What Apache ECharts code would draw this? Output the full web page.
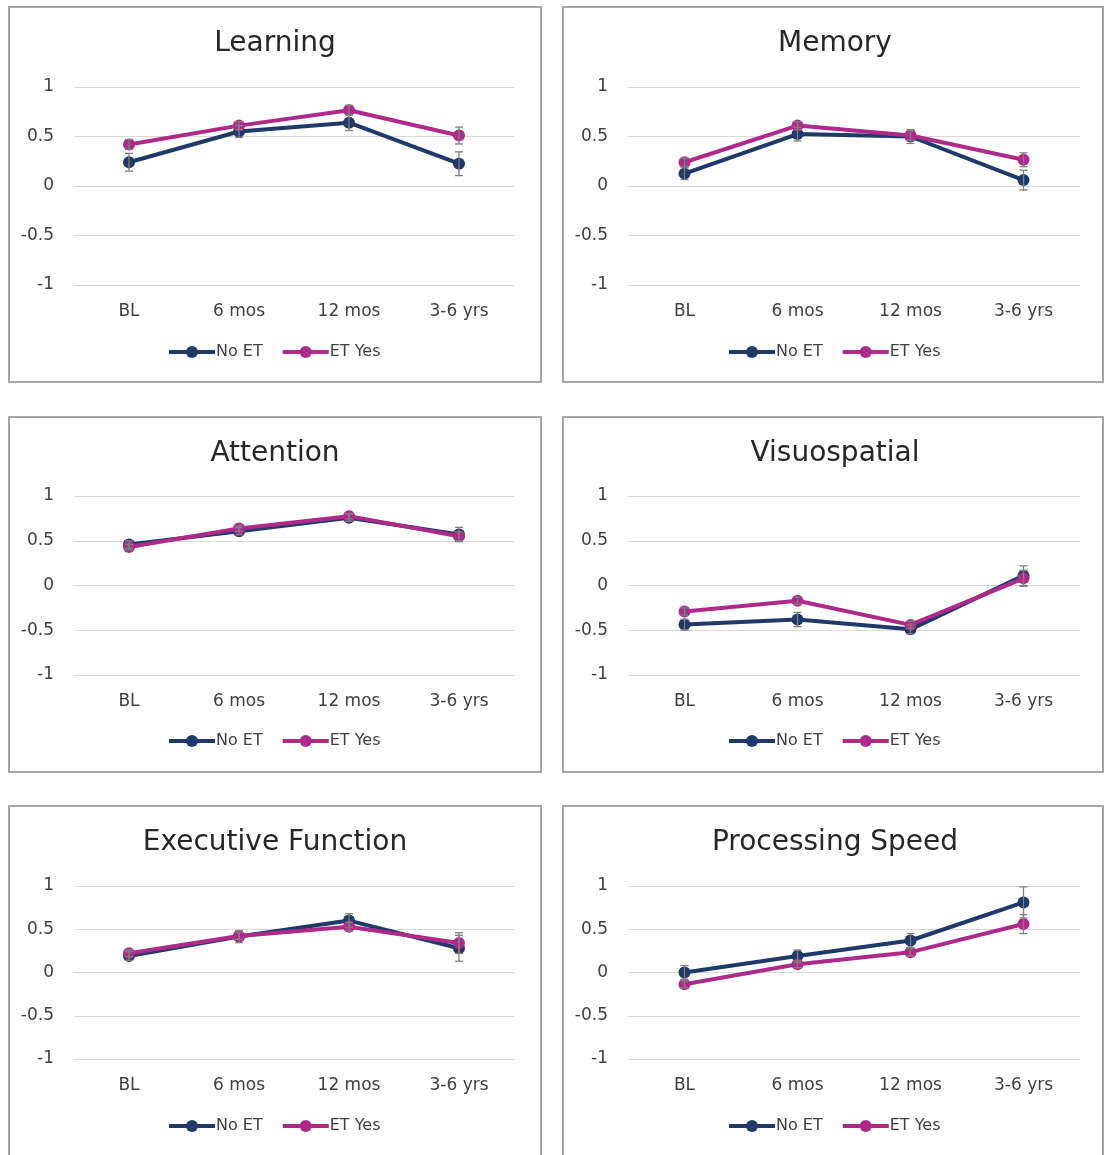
<!DOCTYPE html>
<html>
<head>
<meta charset="utf-8">
<script src="https://cdn.jsdelivr.net/npm/echarts@6/dist/echarts.min.js"></script>
<style>
html,body{margin:0;padding:0;background:#fff;}
#c{width:1105px;height:1155px;}
</style>
</head>
<body>
<div id="c"></div>
<script>
const categories = ['BL', '6 mos', '12 mos', '3-6 yrs'];
const seriesNames = ['No ET', 'ET Yes'];
const yTicks = [-1, -0.5, 0, 0.5, 1];

const panelTitles = ['Learning', 'Memory', 'Attention', 'Visuospatial', 'Executive Function', 'Processing Speed'];

// means
const learningNoET = [0.24, 0.55, 0.64, 0.225];
const learningETYes = [0.42, 0.61, 0.765, 0.51];
const memoryNoET = [0.125, 0.525, 0.50, 0.06];
const memoryETYes = [0.24, 0.61, 0.51, 0.265];
const attentionNoET = [0.457, 0.607, 0.757, 0.57];
const attentionETYes = [0.43, 0.637, 0.775, 0.55];
const visuoNoET = [-0.437, -0.38, -0.49, 0.11];
const visuoETYes = [-0.29, -0.17, -0.44, 0.08];
const execNoET = [0.19, 0.415, 0.60, 0.28];
const execETYes = [0.223, 0.423, 0.53, 0.34];
const speedNoET = [0.0, 0.19, 0.37, 0.81];
const speedETYes = [-0.135, 0.096, 0.235, 0.56];

// error bar half-widths
const learningNoETErr = [0.09, 0.06, 0.08, 0.12];
const learningETYesErr = [0.05, 0.04, 0.05, 0.085];
const memoryNoETErr = [0.06, 0.07, 0.07, 0.10];
const memoryETYesErr = [0.04, 0.04, 0.05, 0.07];
const attentionNoETErr = [0.04, 0.04, 0.04, 0.08];
const attentionETYesErr = [0.03, 0.03, 0.03, 0.05];
const visuoNoETErr = [0.06, 0.08, 0.05, 0.11];
const visuoETYesErr = [0.04, 0.04, 0.04, 0.09];
const execNoETErr = [0.05, 0.07, 0.08, 0.15];
const execETYesErr = [0.04, 0.04, 0.05, 0.12];
const speedNoETErr = [0.08, 0.07, 0.08, 0.18];
const speedETYesErr = [0.04, 0.04, 0.04, 0.11];

const panelData = [
  [learningNoET, learningETYes, learningNoETErr, learningETYesErr],
  [memoryNoET, memoryETYes, memoryNoETErr, memoryETYesErr],
  [attentionNoET, attentionETYes, attentionNoETErr, attentionETYesErr],
  [visuoNoET, visuoETYes, visuoNoETErr, visuoETYesErr],
  [execNoET, execETYes, execNoETErr, execETYesErr],
  [speedNoET, speedETYes, speedNoETErr, speedETYesErr]
];

const NAVY = '#1f3968';
const MAGENTA = '#ae2a8a';
const ERR = '#7f7f7f';
const FONT = 'DejaVu Sans';

// layout
const cols = [
  {left: 74, width: 440, center: 275, boxL: 9, boxR: 541, yLab: 20},
  {left: 628, width: 452, center: 835, boxL: 563, boxR: 1103, yLab: 20}
];
const rows = [
  {top: 87, height: 198, title: 43, legend: 352, boxT: 7, boxB: 382},
  {top: 496, height: 179, title: 453, legend: 741, boxT: 417, boxB: 772},
  {top: 886, height: 173, title: 842, legend: 1126, boxT: 806, boxB: 1170}
];

const grids = [], xAxes = [], yAxes = [], series = [], titles = [], legends = [], graphics = [];

function errRender(color) {
  return function (params, api) {
    const x = api.value(0), lo = api.value(1), hi = api.value(2);
    const p1 = api.coord([x, lo]);
    const p2 = api.coord([x, hi]);
    const cw = 4;
    const st = {stroke: color, lineWidth: 1.3};
    return {
      type: 'group',
      children: [
        {type: 'line', shape: {x1: p1[0], y1: p1[1], x2: p2[0], y2: p2[1]}, style: st},
        {type: 'line', shape: {x1: p1[0] - cw, y1: p1[1], x2: p1[0] + cw, y2: p1[1]}, style: st},
        {type: 'line', shape: {x1: p2[0] - cw, y1: p2[1], x2: p2[0] + cw, y2: p2[1]}, style: st}
      ]
    };
  };
}

for (let i = 0; i < 6; i++) {
  const c = cols[i % 2], r = rows[Math.floor(i / 2)];
  const [m1, m2, e1, e2] = panelData[i];
  grids.push({left: c.left, width: c.width, top: r.top, height: r.height, containLabel: false});
  xAxes.push({
    type: 'category', gridIndex: i, data: categories, boundaryGap: true,
    axisLine: {show: true, lineStyle: {color: '#d9d9d9', width: 1}},
    axisTick: {show: false},
    axisLabel: {color: '#404040', fontSize: 17, fontFamily: FONT, margin: 18}
  });
  yAxes.push({
    type: 'value', gridIndex: i, min: -1, max: 1, interval: 0.5,
    axisLine: {show: false}, axisTick: {show: false},
    splitLine: {lineStyle: {color: '#d9d9d9', width: 1}},
    axisLabel: {color: '#404040', fontSize: 17, fontFamily: FONT, margin: c.yLab,
      formatter: v => (yTicks.indexOf(v) >= 0 ? String(v) : '')}
  });
  titles.push({
    text: panelTitles[i], left: c.center, top: r.title - 13, textAlign: 'center', padding: 0,
    textStyle: {fontSize: 28, fontWeight: 'normal', color: '#262626', fontFamily: FONT}
  });
  legends.push({
    data: seriesNames, left: c.center - 108, top: r.legend - 8, padding: 0,
    orient: 'horizontal', itemWidth: 46, itemHeight: 15, itemGap: 18,
    lineStyle: {width: 4},
    textStyle: {fontSize: 16, color: '#404040', fontFamily: FONT, padding: [0, 0, 0, -4]}
  });
  [[m1, e1, NAVY, seriesNames[0]], [m2, e2, MAGENTA, seriesNames[1]]].forEach(([m, e, col, nm], k) => {
    series.push({
      type: 'line', name: nm, xAxisIndex: i, yAxisIndex: i, data: m,
      symbol: 'circle', symbolSize: 12, lineStyle: {color: col, width: 4},
      itemStyle: {color: col}, z: 3 + k, animation: false
    });
    series.push({
      type: 'custom', name: nm + ' err', xAxisIndex: i, yAxisIndex: i,
      data: m.map((v, j) => [j, v - e[j], v + e[j]]),
      renderItem: errRender(ERR), z: 6, silent: true, animation: false
    });
  });
  graphics.push({
    type: 'rect', shape: {x: c.boxL, y: r.boxT, width: c.boxR - c.boxL, height: r.boxB - r.boxT},
    style: {fill: 'none', stroke: '#a6a6a6', lineWidth: 2}, z: -1
  });
}

const chart = echarts.init(document.getElementById('c'), null, {renderer: 'canvas'});
chart.setOption({
  backgroundColor: '#fff',
  animation: false,
  title: titles,
  legend: legends,
  grid: grids,
  xAxis: xAxes,
  yAxis: yAxes,
  series: series,
  graphic: graphics
});
</script>
</body>
</html>
